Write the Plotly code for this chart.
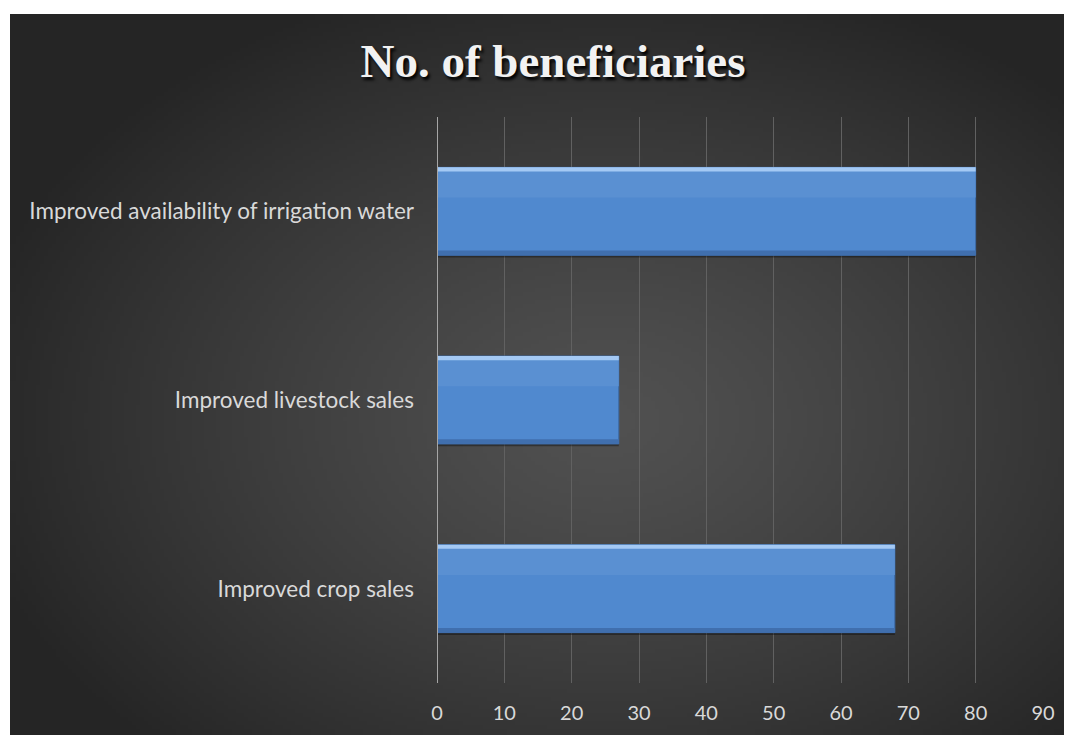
import base64, struct, zlib
import numpy as np
import plotly.graph_objects as go

categories = ["Improved crop sales", "Improved livestock sales", "Improved availability of irrigation water"]
values = [68, 27, 80]
tick_vals = [0, 10, 20, 30, 40, 50, 60, 70, 80, 90]
title_text = "No. of beneficiaries"

# page has an 8px body margin; the figure is sized to fit the window
W, H = 1064, 727
L, R, T, B = 429, 29, 109, 52
pw, ph = W - L - R, H - T - B

# radial gradient background image (PNG data URI)
gw, gh = 266, 180
yy, xx = np.mgrid[0:gh, 0:gw]
cx, cy = 0.56 * gw, 0.56 * gh
d = np.sqrt(((xx - cx) / (0.62 * gw)) ** 2 + ((yy - cy) / (0.64 * gh)) ** 2)
d = np.clip(d, 0, 1)
v = (0x51 - (0x51 - 0x25) * d ** 1.25).astype(np.uint8)
raw = b"".join(b"\x00" + bytes(np.stack([row, row, row], axis=-1).flatten()) for row in v)
def chunk(t, data):
    c = struct.pack(">I", len(data)) + t + data
    return c + struct.pack(">I", zlib.crc32(t + data) & 0xffffffff)
png = b"\x89PNG\r\n\x1a\n" + chunk(b"IHDR", struct.pack(">IIBBBBB", gw, gh, 8, 2, 0, 0, 0)) \
      + chunk(b"IDAT", zlib.compress(raw, 9)) + chunk(b"IEND", b"")
uri = "data:image/png;base64," + base64.b64encode(png).decode()

bw = 0.466
fig = go.Figure()
# shadow
fig.add_trace(go.Bar(y=categories, x=values, orientation="h", width=bw, offset=-bw / 2 - 0.012,
                     marker=dict(color="rgba(0,0,0,0.35)", line=dict(width=0)), hoverinfo="skip", showlegend=False))
# main bar
fig.add_trace(go.Bar(y=categories, x=values, orientation="h", width=bw, offset=-bw / 2,
                     marker=dict(color="#5089cf", line=dict(color="#3c6aa6", width=1)), showlegend=False))
# upper lighter body
fig.add_trace(go.Bar(y=categories, x=values, orientation="h", width=0.16, offset=bw / 2 - 0.16,
                     marker=dict(color="#5a90d2", line=dict(width=0)), hoverinfo="skip", showlegend=False))
# top bevel highlight
fig.add_trace(go.Bar(y=categories, x=values, orientation="h", width=0.022, offset=bw / 2 - 0.022,
                     marker=dict(color="#a4c9f4", line=dict(width=0)), hoverinfo="skip", showlegend=False))
# bottom darker strip
fig.add_trace(go.Bar(y=categories, x=values, orientation="h", width=0.025, offset=-bw / 2,
                     marker=dict(color="#406fae", line=dict(width=0)), hoverinfo="skip", showlegend=False))

fig.update_layout(
    width=W, height=H,
    margin=dict(l=L, r=R, t=T, b=B, pad=0),
    paper_bgcolor="white", plot_bgcolor="rgba(0,0,0,0)",
    barmode="overlay",
    title=dict(text="<b>" + title_text + "</b>", x=545 / W, xanchor="center", y=1 - 53 / H, yanchor="middle",
               xref="container", yref="container",
               font=dict(family="Liberation Serif", size=47, color="#f2f2f2", shadow="2px 3px 3px #000")),
    images=[dict(source=uri, xref="paper", yref="paper",
                 x=(2 - L) / pw, y=(H - 6 - B) / ph, xanchor="left", yanchor="top",
                 sizex=(W - 2) / pw, sizey=(H - 6) / ph, sizing="stretch", layer="below")],
    xaxis=dict(range=[0, 90], tickvals=tick_vals, showgrid=True, gridcolor="#616161", gridwidth=1,
               zeroline=False, showline=False, ticks="", ticklabelstandoff=16,
               tickfont=dict(family="Lato", size=20, color="#d9d9d9"), fixedrange=True),
    yaxis=dict(categoryorder="array", categoryarray=categories, showgrid=False, zeroline=False,
               showline=False, ticks="", ticklabelstandoff=22,
               tickfont=dict(family="Lato", size=22.5, color="#d9d9d9"), fixedrange=True),
    shapes=[dict(type="line", xref="x", yref="paper", x0=0, x1=0, y0=0, y1=1,
                 line=dict(color="#a6a6a6", width=2))],
)
fig.write_html("out.html")
